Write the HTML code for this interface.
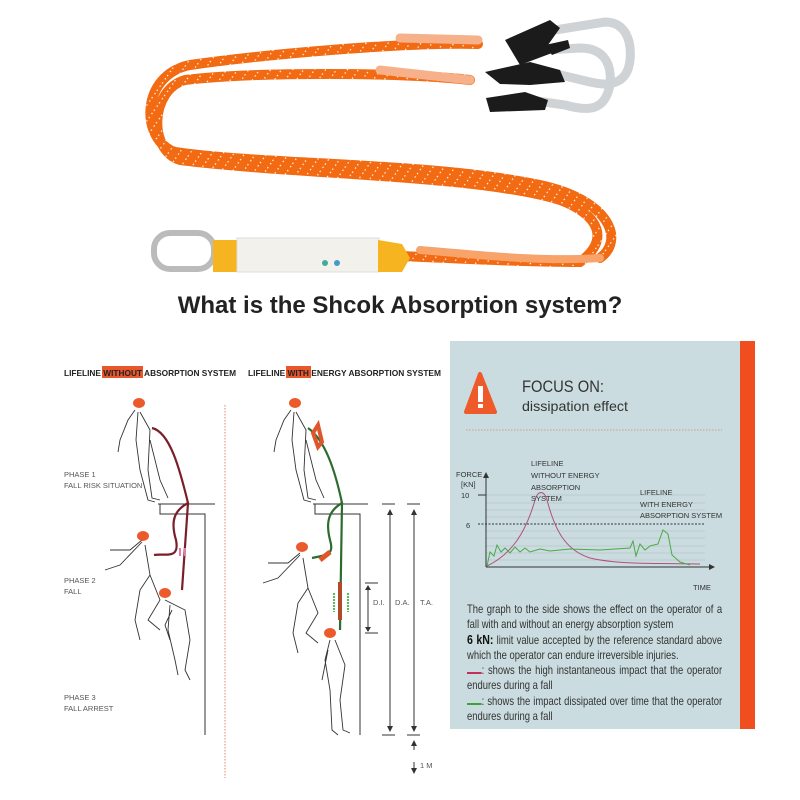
<!DOCTYPE html>
<html><head><meta charset="utf-8"><style>
body{margin:0;background:#fff;width:800px;height:800px;overflow:hidden;font-family:"Liberation Sans",sans-serif}
svg{position:absolute;left:0;top:0}
.t{font-family:"Liberation Sans",sans-serif}
.p{position:absolute;left:467px;width:313px;font-size:11.6px;color:#333;line-height:15.1px;top:602px;transform:scaleX(0.815);transform-origin:0 0;text-align:justify}
</style></head><body>
<svg width="800" height="800" viewBox="0 0 800 800">
<defs>
<pattern id="dots" width="9" height="9" patternUnits="userSpaceOnUse" patternTransform="rotate(35)">
<rect width="9" height="9" fill="#f26a12"/><rect x="0" y="1" width="1.2" height="1.5" fill="#fff2e0"/><rect x="0" y="5" width="1.2" height="1.5" fill="#fff2e0"/>
</pattern>
</defs>
<g fill="none" stroke-linecap="round">
<path d="M478,44 C400,42 260,55 190,65 C140,75 140,140 175,152 C260,165 430,162 540,185 C610,200 625,240 600,258" stroke="url(#dots)" stroke-width="10"/>
<path d="M470,80 C400,72 250,72 185,80 C150,90 148,150 180,160 C300,175 480,175 560,200 C600,215 610,240 580,262 C520,262 450,258 400,256" stroke="url(#dots)" stroke-width="10"/>
<path d="M420,250 C480,255 540,262 600,258" stroke="#f7a36a" stroke-width="8"/>
<path d="M400,38 L478,40" stroke="#f6b08a" stroke-width="9"/>
<path d="M380,70 L470,80" stroke="#f6b08a" stroke-width="9"/>
</g>
<rect x="154" y="233" width="60" height="36" rx="16" fill="none" stroke="#bbb" stroke-width="6"/>
<rect x="213" y="240" width="26" height="32" fill="#f6b420"/>
<rect x="237" y="238" width="142" height="34" fill="#f3f1ec" stroke="#ddd"/>
<path d="M378,240 L402,244 L410,258 L402,272 L378,272Z" fill="#f6b420"/>
<circle cx="325" cy="263" r="3" fill="#4a9"/><circle cx="337" cy="263" r="3" fill="#49c"/>
<g fill="none" stroke="#cfd3d6" stroke-width="9">
<path d="M555,30 L605,22 C625,22 632,40 630,60 C628,80 615,88 590,82 L540,70"/>
<path d="M545,50 L580,48 C605,48 612,65 610,85 C605,110 590,112 565,105 L530,100"/>
</g>
<g fill="#1b1b1b">
<path d="M505,40 L550,20 L560,28 L548,45 L560,50 L520,65 Z"/>
<path d="M485,72 L530,62 L560,70 L565,82 L530,85 L500,84 Z"/>
<path d="M486,98 L525,92 L548,100 L545,110 L490,112 Z"/>
<path d="M545,45 L568,40 L570,48 L552,55Z"/>
</g>
<text x="400" y="313" text-anchor="middle" class="t" font-size="24" font-weight="bold" fill="#222">What is the Shcok Absorption system?</text>

<rect x="450" y="341" width="291" height="388" fill="#cadcdf"/>
<rect x="740" y="341" width="15" height="388" fill="#f04e1e"/>
<path d="M466,412 L480,374 L495,412Z" fill="#ee5a2a" stroke="#ee5a2a" stroke-width="4" stroke-linejoin="round"/>
<rect x="478" y="386" width="5" height="16" fill="#fff"/><rect x="478" y="404" width="5" height="4" fill="#fff"/>
<text x="522" y="392" class="t" font-size="17" fill="#333" textLength="82" lengthAdjust="spacingAndGlyphs">FOCUS ON:</text>
<text x="522" y="411" class="t" font-size="14" fill="#333" textLength="106" lengthAdjust="spacingAndGlyphs">dissipation effect</text>
<line x1="466" y1="430" x2="722" y2="430" stroke="#c8a08a" stroke-dasharray="1.5 1.5"/>
<g stroke="#b9c7c9" stroke-width="0.8">
<line x1="486" y1="503" x2="705" y2="503"/><line x1="486" y1="510" x2="705" y2="510"/><line x1="486" y1="517" x2="705" y2="517"/>
<line x1="486" y1="531" x2="705" y2="531"/><line x1="486" y1="538" x2="705" y2="538"/><line x1="486" y1="546" x2="705" y2="546"/><line x1="486" y1="553" x2="705" y2="553"/><line x1="486" y1="560" x2="705" y2="560"/>
<line x1="486" y1="495" x2="705" y2="495"/>
</g>
<line x1="478" y1="524" x2="705" y2="524" stroke="#333" stroke-dasharray="2 1.5"/>
<line x1="478" y1="495" x2="486" y2="495" stroke="#333"/>
<line x1="486" y1="567" x2="710" y2="567" stroke="#333"/>
<line x1="486" y1="567" x2="486" y2="476" stroke="#333"/>
<path d="M483,478 L486,472 L489,478Z M709,564 L715,567 L709,570Z" fill="#333"/>
<path d="M487,566 C510,555 525,535 535,500 C538,490 544,490 547,500 C555,530 565,550 590,558 C620,565 660,563 700,564" fill="none" stroke="#b0507a" stroke-width="1"/>
<path d="M487,566 L490,552 L494,556 L497,545 L501,552 L505,548 L510,553 L515,547 L520,552 L525,548 L530,552 L540,549 L550,551 L570,549 L600,550 L630,548 L633,541 L636,556 L640,544 L645,550 L650,546 L658,544 L663,530 L668,534 L672,555 L680,562 L690,565" fill="none" stroke="#4aaa4a" stroke-width="1"/>
<g class="t" font-size="7.5" fill="#333">
<text x="456" y="477">FORCE</text><text x="461" y="487">[KN]</text><text x="461" y="498">10</text><text x="466" y="528">6</text>
<text x="531" y="466">LIFELINE</text><text x="531" y="478">WITHOUT ENERGY</text><text x="531" y="490">ABSORPTION</text><text x="531" y="501">SYSTEM</text>
<text x="640" y="495">LIFELINE</text><text x="640" y="507">WITH ENERGY</text><text x="640" y="518">ABSORPTION SYSTEM</text>
<text x="693" y="590">TIME</text>
</g>

<rect x="102" y="366" width="41" height="12" fill="#e8562c"/>
<rect x="286" y="366" width="25" height="12" fill="#e8562c"/>
<g class="t" font-size="8.5" font-weight="bold" fill="#222">
<text x="64" y="376" textLength="172" lengthAdjust="spacingAndGlyphs">LIFELINE WITHOUT ABSORPTION SYSTEM</text>
<text x="248" y="376" textLength="193" lengthAdjust="spacingAndGlyphs">LIFELINE WITH ENERGY ABSORPTION SYSTEM</text>
</g>
<g class="t" font-size="7.5" fill="#555">
<text x="64" y="477">PHASE 1</text><text x="64" y="488">FALL RISK SITUATION</text>
<text x="64" y="583">PHASE 2</text><text x="64" y="594">FALL</text>
<text x="64" y="700">PHASE 3</text><text x="64" y="711">FALL ARREST</text>
<text x="373" y="605">D.I.</text><text x="395" y="605">D.A.</text><text x="420" y="605">T.A.</text>
<text x="420" y="768">1 M</text>
</g>
<line x1="225" y1="405" x2="225" y2="778" stroke="#d9886a" stroke-dasharray="1.5 1.5"/>
<g fill="none" stroke="#333" stroke-width="1">
<path d="M158,504 L215,504 M160,504 L160,514 L205,514 L205,735"/>
<path d="M313,504 L368,504 M315,504 L315,514 L360,514 L360,735"/>
<path d="M382,504 L395,504 M407,504 L420,504 M382,735 L395,735 M407,735 L420,735 M365,583 L378,583 M365,633 L378,633"/>
<path d="M390,513 L390,728 M414,513 L414,728 M368,587 L368,629 M414,745 L414,750 M414,762 L414,770"/>
</g>
<g fill="#333">
<path d="M387,515 L390,509 L393,515Z M387,726 L390,732 L393,726Z M411,515 L414,509 L417,515Z M411,726 L414,732 L417,726Z M365,590 L368,585 L371,590Z M365,627 L368,632 L371,627Z M411,746 L414,740 L417,746Z M411,768 L414,774 L417,768Z"/>
</g>
<g fill="#fff" stroke="#333" stroke-width="0.9">
<path d="M135,410 L128,420 L120,440 L118,452 M140,412 L150,430 L148,470 L152,498 L160,500 M138,412 L136,440 L140,470 L148,500 L155,502 M150,440 L160,480 L168,498"/>
<path d="M142,540 L130,550 L110,550 M142,542 L120,565 L105,570 M145,545 L150,575 L140,590 L135,620 L140,640 M150,575 L160,600 L148,620 L160,630"/>
<path d="M165,600 L175,605 L185,610 L190,640 L185,670 L190,680 M170,605 L168,630 L175,660 L178,675 M172,610 L165,625 L170,640"/>
<path d="M291,410 L284,420 L276,440 L274,452 M296,412 L306,430 L304,470 L308,498 L316,500 M294,412 L292,440 L296,470 L304,500 L311,502 M306,440 L316,480 L324,498"/>
<path d="M300,553 L288,563 L268,563 M300,555 L278,578 L263,583 M303,558 L308,588 L298,603 L293,633 L298,653 M308,588 L318,613 L306,633 L318,643"/>
<path d="M330,640 L325,660 L330,690 L332,730 L338,735 M335,640 L345,665 L340,700 L343,730 L350,733 M328,650 L322,680"/>
</g>
<g fill="#ec5a2c">
<ellipse cx="139" cy="403" rx="6" ry="5"/><ellipse cx="143" cy="536" rx="6" ry="5"/><ellipse cx="165" cy="593" rx="6" ry="5"/>
<ellipse cx="295" cy="403" rx="6" ry="5"/><ellipse cx="302" cy="547" rx="6" ry="5"/><ellipse cx="330" cy="633" rx="6" ry="5"/>
</g>
<g fill="none" stroke-width="2.2">
<path d="M152,428 C170,432 180,470 188,503 C175,510 170,520 176,540 C180,560 165,553 154,555" stroke="#7a1f2a"/>
<path d="M188,503 L182,590" stroke="#7a1f2a"/>
<path d="M308,428 C325,440 335,470 342,503 C330,510 325,520 330,540 C335,556 325,555 312,558" stroke="#2e6b2e"/>
<path d="M342,503 L340,630" stroke="#2e6b2e"/>
<path d="M313,433 L318,425 L322,442 L318,447Z" stroke="#e0562c" stroke-width="4"/>
<path d="M320,560 L330,552" stroke="#e0562c" stroke-width="5"/>
<path d="M340,582 L340,620" stroke="#b04a2a" stroke-width="4"/>
</g>
<g stroke="#e080a8" stroke-width="2"><path d="M180,548 L180,556 M185,548 L185,556"/></g>
<g stroke="#5ab85a" stroke-width="2" stroke-dasharray="2 1"><path d="M334,593 L334,612 M348,593 L348,612"/></g>
</svg>
<div class="p">The graph to the side shows the effect on the operator of a fall with and without an energy absorption system<br><b style="font-size:13px;color:#111">6 kN:</b> limit value accepted by the reference standard above which the operator can endure irreversible injuries.<br><span style="display:inline-block;width:18px;border-bottom:2px solid #c0305a"></span>: shows the high instantaneous impact that the operator endures during a fall<br><span style="display:inline-block;width:18px;border-bottom:2px solid #3aa53a"></span>: shows the impact dissipated over time that the operator endures during a fall</div>
</body></html>
